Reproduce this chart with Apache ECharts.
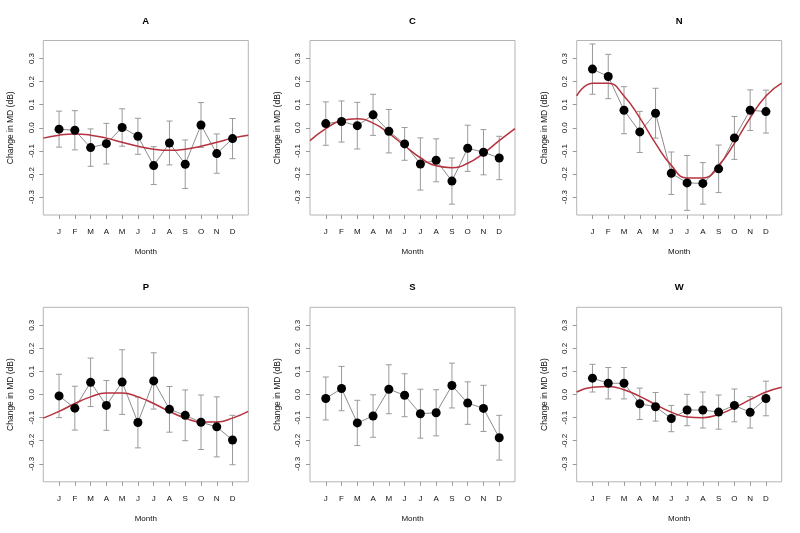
<!DOCTYPE html>
<html>
<head>
<meta charset="utf-8">
<script src="https://cdn.jsdelivr.net/npm/echarts@6/dist/echarts.min.js"></script>
<style>
html,body{margin:0;padding:0;background:#fff;}
#c{width:800px;height:533px;}
</style>
</head>
<body>
<div id="c"></div>
<script>
const months = ['J','F','M','A','M','J','J','A','S','O','N','D'];
const monthPos = [1,2,3,4,5,6,7,8,9,10,11,12];
const fitPos = [0,1,2,3,4,5,6,7,8,9,10,11,12,13];
const yTicks = [-0.3,-0.2,-0.1,0,0.1,0.2,0.3];
const panelNames = ['A','C','N','P','S','W'];

const A_mean = [-0.006,-0.011,-0.086,-0.069,0.001,-0.037,-0.164,-0.066,-0.158,0.012,-0.112,-0.047];
const A_err  = [0.078,0.085,0.081,0.088,0.081,0.078,0.082,0.095,0.105,0.097,0.085,0.087];
const A_fit  = [-0.045,-0.032,-0.027,-0.032,-0.045,-0.063,-0.080,-0.093,-0.098,-0.093,-0.080,-0.063,-0.045,-0.032];

const C_mean = [0.018,0.027,0.009,0.056,-0.015,-0.070,-0.157,-0.141,-0.231,-0.089,-0.106,-0.131];
const C_err  = [0.094,0.089,0.101,0.089,0.094,0.071,0.113,0.093,0.100,0.100,0.098,0.094];
const C_fit  = [-0.056,-0.004,0.031,0.039,0.020,-0.024,-0.078,-0.130,-0.165,-0.173,-0.154,-0.111,-0.056,-0.004];

const N_mean = [0.254,0.222,0.076,-0.018,0.063,-0.197,-0.239,-0.241,-0.178,-0.044,0.076,0.070];
const N_err  = [0.109,0.096,0.102,0.089,0.108,0.092,0.119,0.090,0.103,0.093,0.088,0.093];
const N_fit  = [0.138,0.193,0.193,0.138,0.043,-0.068,-0.163,-0.218,-0.218,-0.163,-0.068,0.043,0.138,0.193];

const P_mean = [-0.006,-0.059,0.053,-0.047,0.054,-0.121,0.059,-0.064,-0.090,-0.120,-0.140,-0.197];
const P_err  = [0.094,0.095,0.105,0.108,0.140,0.110,0.122,0.099,0.110,0.118,0.130,0.107];
const P_fit  = [-0.102,-0.073,-0.039,-0.010,0.007,0.007,-0.010,-0.039,-0.073,-0.102,-0.119,-0.119,-0.102,-0.073];

const S_mean = [-0.017,0.026,-0.123,-0.093,0.023,-0.003,-0.083,-0.079,0.039,-0.037,-0.060,-0.187];
const S_err  = [0.093,0.096,0.098,0.092,0.106,0.093,0.106,0.100,0.097,0.092,0.100,0.097];
const S_fit  = null;

const W_mean = [0.071,0.049,0.049,-0.040,-0.053,-0.104,-0.067,-0.067,-0.076,-0.047,-0.077,-0.017];
const W_err  = [0.060,0.068,0.068,0.068,0.062,0.057,0.068,0.078,0.074,0.071,0.068,0.075];
const W_fit  = [0.011,0.032,0.035,0.021,-0.008,-0.043,-0.076,-0.097,-0.100,-0.086,-0.057,-0.022,0.011,0.032];

const means = [A_mean, C_mean, N_mean, P_mean, S_mean, W_mean];
const errs  = [A_err, C_err, N_err, P_err, S_err, W_err];
const fits  = [A_fit, C_fit, N_fit, P_fit, S_fit, W_fit];

const FONT = 'Liberation Sans, Arial, sans-serif';
const colLeft = [43.3, 310, 576.7];
const rowTop = [40.5, 307.3];
const titleY = [21, 287.4];
const W = 205, H = 174.5;

function renderErr(params, api) {
  const x = api.value(0), lo = api.value(1), hi = api.value(2);
  const a = api.coord([x, hi]);
  const b = api.coord([x, lo]);
  const hw = 3;
  const style = { stroke: '#9a9a9a', lineWidth: 1, fill: null };
  return {
    type: 'group',
    children: [
      { type: 'line', shape: { x1: a[0], y1: a[1], x2: b[0], y2: b[1] }, style: style },
      { type: 'line', shape: { x1: a[0] - hw, y1: a[1], x2: a[0] + hw, y2: a[1] }, style: style },
      { type: 'line', shape: { x1: b[0] - hw, y1: b[1], x2: b[0] + hw, y2: b[1] }, style: style }
    ]
  };
}

const grids = [], xAxes = [], yAxes = [], titles = [], series = [];
panelNames.forEach(function (name, i) {
  const col = i % 3, row = Math.floor(i / 3);
  grids.push({ left: colLeft[col], top: rowTop[row], width: W, height: H, show: true,
    borderColor: '#b4b4b4', borderWidth: 1, backgroundColor: 'transparent' });
  titles.push({ text: name, left: colLeft[col] + W / 2, top: titleY[row] - 5, textAlign: 'center', padding: 0,
    textStyle: { fontSize: 9.5, fontWeight: 'bold', fontFamily: FONT, color: '#000' } });
  xAxes.push({
    gridIndex: i, type: 'value', min: 0, max: 13,
    axisLine: { show: false, onZero: false },
    splitLine: { show: false },
    axisTick: { show: true, customValues: monthPos, length: 4, lineStyle: { color: '#999' } },
    axisLabel: { customValues: monthPos, formatter: function (v) { return months[Math.round(v) - 1]; },
      margin: 13, fontSize: 8, color: '#111', fontFamily: FONT },
    name: 'Month', nameLocation: 'middle', nameGap: 33,
    nameTextStyle: { fontSize: 8, color: '#111', fontFamily: FONT }
  });
  yAxes.push({
    gridIndex: i, type: 'value', min: -0.378, max: 0.378,
    axisLine: { show: false, onZero: false },
    splitLine: { show: false },
    axisTick: { show: true, customValues: yTicks, length: 4, lineStyle: { color: '#999' } },
    axisLabel: { customValues: yTicks, formatter: function (v) { return v.toFixed(1); },
      rotate: 90, margin: 8, fontSize: 8, color: '#111', fontFamily: FONT },
    name: 'Change in MD (dB)', nameLocation: 'middle', nameGap: 28,
    nameTextStyle: { fontSize: 8.5, color: '#111', fontFamily: FONT }
  });
  const m = means[i], e = errs[i];
  series.push({
    type: 'custom', xAxisIndex: i, yAxisIndex: i, renderItem: renderErr, z: 1,
    encode: { x: 0, y: [1, 2] },
    data: monthPos.map(function (x, k) { return [x, m[k] - e[k], m[k] + e[k]]; })
  });
  series.push({
    type: 'line', xAxisIndex: i, yAxisIndex: i, z: 2, symbol: 'none',
    lineStyle: { color: '#8c8c8c', width: 1 },
    data: monthPos.map(function (x, k) { return [x, m[k]]; })
  });
  if (fits[i]) {
    const f = fits[i];
    series.push({
      type: 'line', xAxisIndex: i, yAxisIndex: i, z: 3, symbol: 'none', smooth: true,
      lineStyle: { color: '#b5323e', width: 1.5 },
      data: fitPos.map(function (x, k) { return [x, f[k]]; })
    });
  }
  series.push({
    type: 'scatter', xAxisIndex: i, yAxisIndex: i, z: 4, symbolSize: 9,
    itemStyle: { color: '#000', opacity: 1 },
    data: monthPos.map(function (x, k) { return [x, m[k]]; })
  });
});

const chart = echarts.init(document.getElementById('c'));
chart.setOption({
  animation: false,
  backgroundColor: '#fff',
  title: titles,
  grid: grids,
  xAxis: xAxes,
  yAxis: yAxes,
  series: series
});
</script>
</body>
</html>
